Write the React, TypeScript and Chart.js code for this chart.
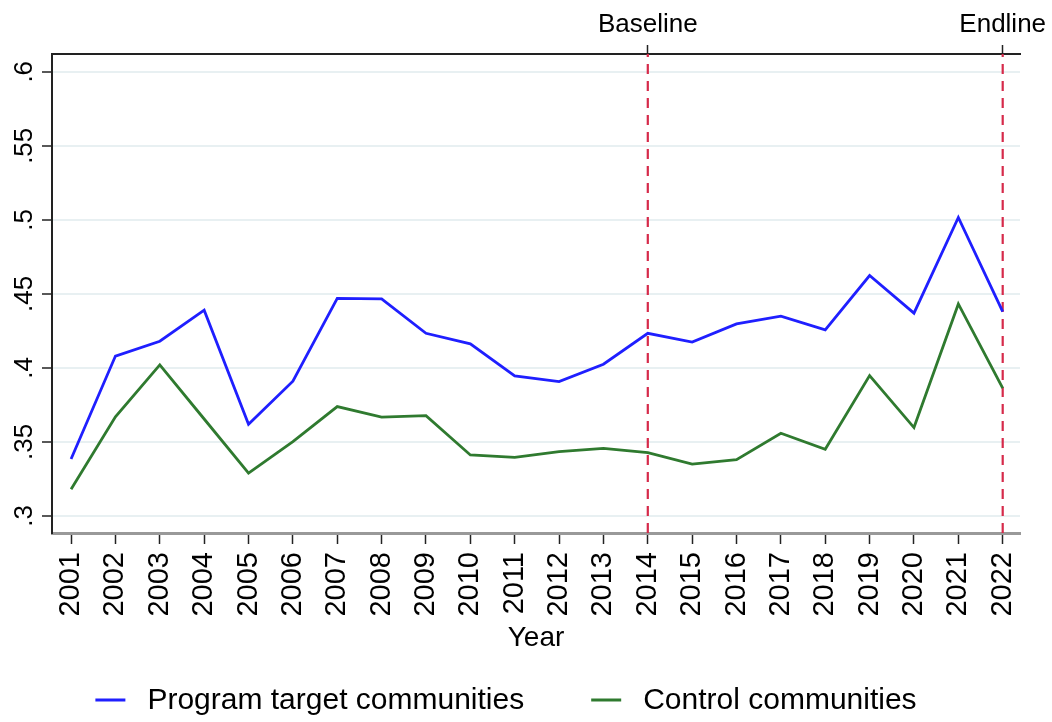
import React, { useEffect, useRef } from 'react';
import { Chart, registerables } from 'chart.js';

Chart.register(...registerables);

const years = [2001, 2002, 2003, 2004, 2005, 2006, 2007, 2008, 2009, 2010, 2011, 2012, 2013, 2014, 2015, 2016, 2017, 2018, 2019, 2020, 2021, 2022];
const programTarget = [0.3385, 0.408, 0.418, 0.439, 0.362, 0.391, 0.447, 0.4466, 0.4234, 0.4162, 0.3946, 0.3907, 0.4025, 0.4234, 0.4174, 0.4297, 0.435, 0.4257, 0.4624, 0.437, 0.5016, 0.438];
const control = [0.318, 0.367, 0.402, 0.3655, 0.329, 0.3502, 0.3739, 0.3667, 0.3678, 0.3412, 0.3396, 0.3435, 0.3457, 0.3428, 0.335, 0.338, 0.3559, 0.345, 0.3948, 0.3597, 0.4432, 0.3863];
const seriesLabels = ['Program target communities', 'Control communities'];
const seriesColors = ['#1f1fff', '#2f7a2f'];
const markerYears = [2014, 2022];
const markerLabels = ['Baseline', 'Endline'];
const yTicks = [0.3, 0.35, 0.4, 0.45, 0.5, 0.55, 0.6];
const yTickLabels = ['.3', '.35', '.4', '.45', '.5', '.55', '.6'];
const xTitle = 'Year';
const xMin = 2000.57;
const xMax = 2022.39;
const yMin = 0.2885;
const yMax = 0.612;

const FONT = '"Liberation Sans", Arial, Helvetica, sans-serif';

const yLabelPlugin = {
  id: 'yRotatedLabels',
  afterDraw(chart: any) {
    const ys = chart.scales.y;
    const ctx = chart.ctx;
    ctx.save();
    ctx.fillStyle = '#000';
    ctx.font = `26px ${FONT}`;
    ctx.textAlign = 'center';
    ctx.textBaseline = 'middle';
    yTicks.forEach((v, i) => {
      const py = ys.getPixelForValue(v);
      ctx.save();
      ctx.translate(ys.right - 27, py);
      ctx.rotate(-Math.PI / 2);
      ctx.fillText(yTickLabels[i], 0, 0);
      ctx.restore();
    });
    ctx.restore();
  },
};

const legendPlugin = {
  id: 'customLegend',
  afterDraw(chart: any) {
    const ctx = chart.ctx;
    const area = chart.chartArea;
    ctx.save();
    ctx.font = `30px ${FONT}`;
    ctx.textBaseline = 'middle';
    ctx.textAlign = 'left';
    const lineW = 30;
    const gapText = 22;
    const gapItem = 67;
    const widths = seriesLabels.map((t) => lineW + gapText + ctx.measureText(t).width);
    const total = widths.reduce((a, b) => a + b, 0) + gapItem * (widths.length - 1);
    const cx = (area.left + area.right) / 2 - 30;
    let x = cx - total / 2;
    const y = chart.height - 22;
    seriesLabels.forEach((t, i) => {
      ctx.strokeStyle = seriesColors[i];
      ctx.lineWidth = 3;
      ctx.beginPath();
      ctx.moveTo(x, y);
      ctx.lineTo(x + lineW, y);
      ctx.stroke();
      ctx.fillStyle = '#000';
      ctx.fillText(t, x + lineW + gapText, y + 1);
      x += widths[i] + gapItem;
    });
    ctx.restore();
  },
};

export default function App() {
  const ref = useRef<HTMLCanvasElement | null>(null);

  useEffect(() => {
    document.body.style.margin = '0';
    const canvas = ref.current;
    if (!canvas) return;

    const markerDatasets = markerYears.map((yr) => ({
      label: 'marker-' + yr,
      data: [{ x: yr, y: yMin }, { x: yr, y: yMax }],
      borderColor: '#d62a4a',
      borderWidth: 2.2,
      borderDash: [10, 7],
      pointRadius: 0,
      fill: false,
    }));

    const chart = new Chart(canvas, {
      type: 'line',
      data: {
        datasets: [
          {
            label: seriesLabels[0],
            data: years.map((yr, i) => ({ x: yr, y: programTarget[i] })),
            borderColor: seriesColors[0],
            borderWidth: 2.8,
            pointRadius: 0,
            tension: 0,
            fill: false,
          },
          {
            label: seriesLabels[1],
            data: years.map((yr, i) => ({ x: yr, y: control[i] })),
            borderColor: seriesColors[1],
            borderWidth: 2.8,
            pointRadius: 0,
            tension: 0,
            fill: false,
          },
          ...markerDatasets,
        ],
      },
      options: {
        animation: false,
        responsive: false,
        maintainAspectRatio: false,
        layout: { padding: { left: 0, right: 32, top: 0, bottom: 63 } },
        plugins: {
          legend: { display: false },
          tooltip: { enabled: false },
        },
        scales: {
          x: {
            type: 'linear',
            position: 'bottom',
            min: xMin,
            max: xMax,
            afterBuildTicks: (s: any) => {
              s.ticks = years.map((v) => ({ value: v }));
            },
            afterFit: (s: any) => {
              s.height = 126;
              s.paddingLeft = 0;
              s.paddingRight = 0;
            },
            ticks: {
              autoSkip: false,
              minRotation: 90,
              maxRotation: 90,
              padding: 8,
              color: '#000',
              font: { family: FONT, size: 29 },
              callback: (v: any) => String(v),
            },
            grid: {
              display: true,
              drawOnChartArea: false,
              drawTicks: true,
              tickLength: 11,
              tickColor: '#222',
              tickWidth: 1.5,
            },
            border: { display: true, color: '#999', width: 3 },
            title: {
              display: true,
              text: xTitle,
              color: '#000',
              font: { family: FONT, size: 28 },
              padding: { top: 0, bottom: 4 },
            },
          },
          x2: {
            type: 'linear',
            position: 'top',
            min: xMin,
            max: xMax,
            afterBuildTicks: (s: any) => {
              s.ticks = markerYears.map((v) => ({ value: v }));
            },
            afterFit: (s: any) => {
              s.height = 54;
              s.paddingLeft = 0;
              s.paddingRight = 0;
            },
            ticks: {
              autoSkip: false,
              maxRotation: 0,
              minRotation: 0,
              padding: 5,
              color: '#000',
              font: { family: FONT, size: 26 },
              callback: (v: any) => {
                const i = markerYears.indexOf(Number(v));
                return i >= 0 ? markerLabels[i] : '';
              },
            },
            grid: {
              display: true,
              drawOnChartArea: false,
              drawTicks: true,
              tickLength: 9,
              tickColor: '#222',
              tickWidth: 1.5,
            },
            border: { display: true, color: '#222', width: 2 },
          },
          y: {
            type: 'linear',
            position: 'left',
            min: yMin,
            max: yMax,
            afterBuildTicks: (s: any) => {
              s.ticks = yTicks.map((v) => ({ value: v }));
            },
            afterFit: (s: any) => {
              s.width = 52;
            },
            ticks: { display: false },
            grid: {
              display: true,
              drawOnChartArea: true,
              drawTicks: true,
              tickLength: 10,
              color: '#e8f0f2',
              lineWidth: 2,
              tickColor: '#222',
              tickWidth: 1.5,
            },
            border: { display: true, color: '#222', width: 2 },
          },
        },
      } as any,
      plugins: [yLabelPlugin, legendPlugin],
    });

    return () => {
      chart.destroy();
    };
  }, []);

  return (
    <div style={{ width: 1052, height: 722, background: '#fff' }}>
      <canvas ref={ref} width={1052} height={722} style={{ display: 'block' }} />
    </div>
  );
}
